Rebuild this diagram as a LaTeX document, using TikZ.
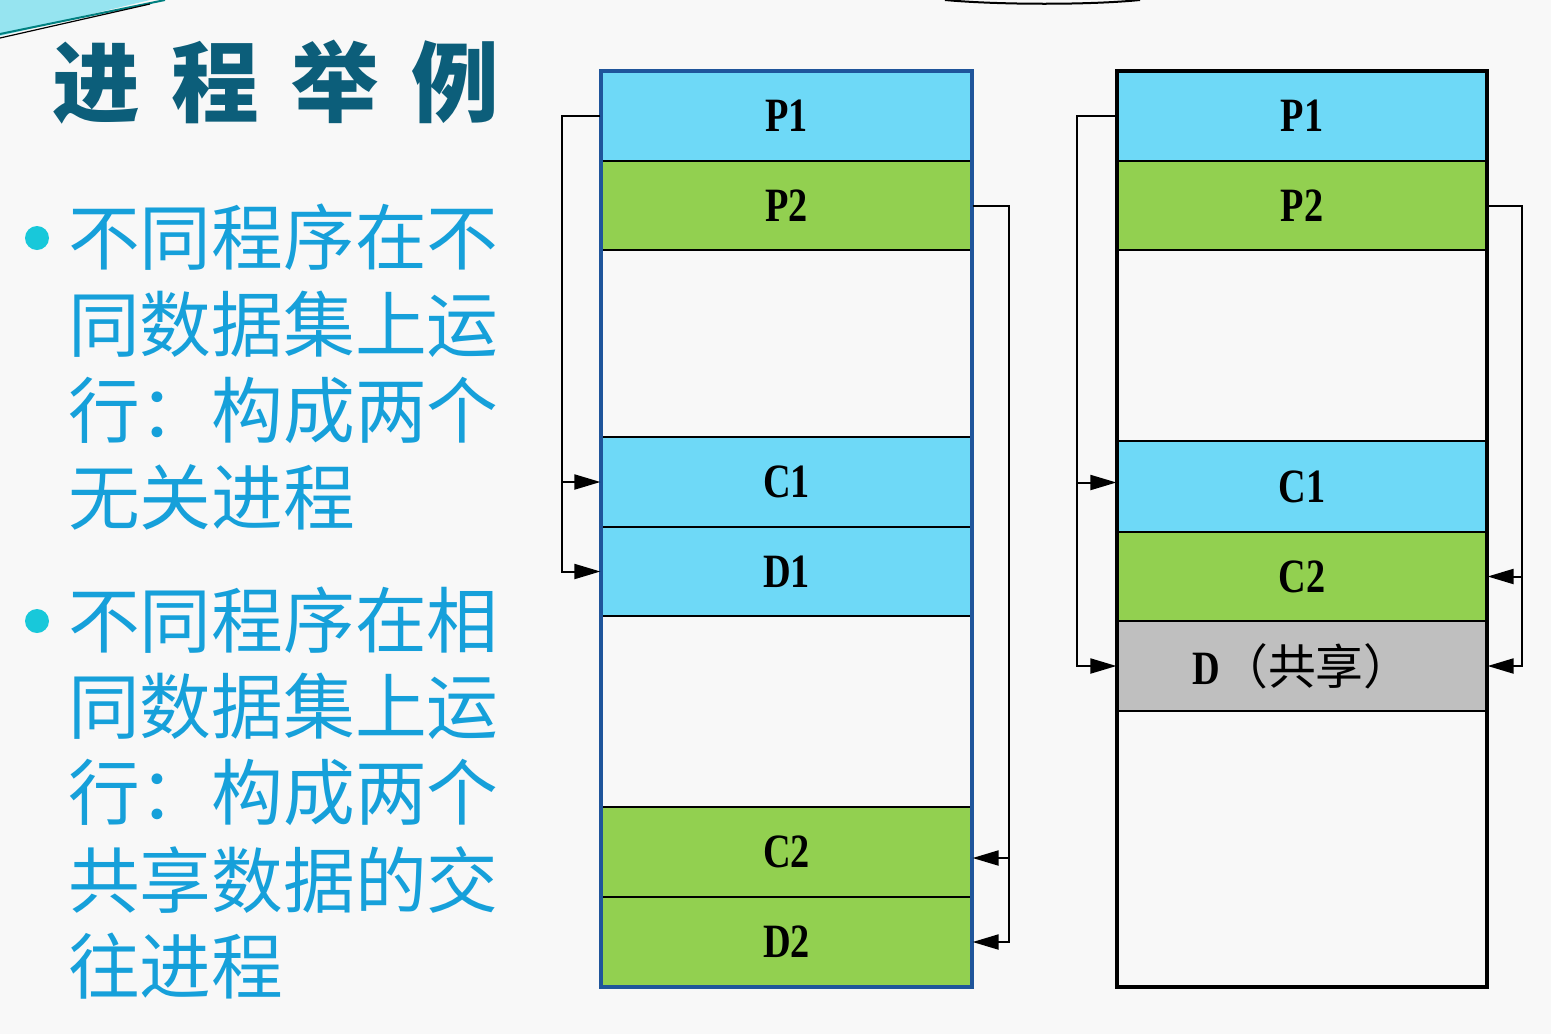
\documentclass[tikz,border=0pt]{standalone}
\usepackage{fontspec}
\usetikzlibrary{arrows.meta,calc}
\newfontfamily\cjk{Noto Sans CJK SC}
\newfontfamily\labf{Liberation Serif}[FakeStretch=0.8]
\definecolor{bg}{RGB}{248,248,248}
\definecolor{cyanrow}{RGB}{110,217,247}
\definecolor{greenrow}{RGB}{146,208,80}
\definecolor{greyrow}{RGB}{191,191,191}
\definecolor{boxblue}{RGB}{31,85,155}
\definecolor{titleblue}{RGB}{12,94,122}
\definecolor{bodyblue}{RGB}{22,160,218}
\definecolor{bulletc}{RGB}{24,200,218}
\definecolor{swoosh}{RGB}{150,228,240}
\begin{document}
\begin{tikzpicture}[x=1bp,y=-1bp,
  row/.style={draw=black,line width=1.2bp,minimum height=90bp,inner sep=0pt,
    font=\labf\bfseries\fontsize{48}{48}\selectfont},
  lrow/.style={row,minimum width=371bp},
  rrow/.style={row,minimum width=370bp},
  conn/.style={draw=black,line width=2bp},
  arr/.style={conn,-{Triangle[length=26bp,width=15bp]}},
  body/.style={anchor=west,inner sep=0pt,text=bodyblue,font=\cjk\fontsize{72}{72}\selectfont},
  bullet/.style={circle,fill=bulletc,minimum size=24bp,inner sep=0pt}]
\useasboundingbox (0,0) rectangle (1551,1034);
\fill[bg] (0,0) rectangle (1551,1034);
% decorations
\fill[swoosh] (0,0) -- (150,0) -- (0,36) -- cycle;
\draw[teal,line width=2bp] (0,34) -- (165,0);
\draw[black,line width=1.2bp] (0,38) -- (150,4);
\draw[black,line width=2bp] (945,0) .. controls (1000,5) and (1090,5) .. (1140,0);
% title
\node[anchor=west,inner sep=0pt,text=titleblue,font=\cjk\bfseries\fontsize{88}{88}\selectfont] (title) at (52,82)
  {进\hspace{32bp}程\hspace{32bp}举\hspace{32bp}例};
% bullets and text
\node[bullet] (b1) at (37,238) {};
\node[body] (t1) at (68,237) {不同程序在不};
\node[body] (t2) at (68,324) {同数据集上运};
\node[body] (t3) at (68,410) {行：构成两个};
\node[body] (t4) at (68,497) {无关进程};
\node[bullet] (b2) at (37,621) {};
\node[body] (t5) at (68,620) {不同程序在相};
\node[body] (t6) at (68,706) {同数据集上运};
\node[body] (t7) at (68,792) {行：构成两个};
\node[body] (t8) at (68,880) {共享数据的交};
\node[body] (t9) at (68,966) {往进程};
% left box
\node[lrow,fill=cyanrow] (lp1) at (786.5,116) {P1};
\node[lrow,fill=greenrow,minimum height=89bp] (lp2) at (786.5,205.5) {P2};
\node[lrow,fill=cyanrow] (lc1) at (786.5,482) {C1};
\node[lrow,fill=cyanrow,minimum height=89bp] (ld1) at (786.5,571.5) {D1};
\node[lrow,fill=greenrow] (lc2) at (786.5,852) {C2};
\node[lrow,fill=greenrow] (ld2) at (786.5,942) {D2};
\node[draw=boxblue,line width=4bp,minimum width=371bp,minimum height=916bp,inner sep=0pt] (lbox) at (786.5,529) {};
% right box
\node[rrow,fill=cyanrow] (rp1) at (1302,116) {P1};
\node[rrow,fill=greenrow,minimum height=89bp] (rp2) at (1302,205.5) {P2};
\node[rrow,fill=cyanrow,minimum height=91bp] (rc1) at (1302,486.5) {C1};
\node[rrow,fill=greenrow,minimum height=89bp] (rc2) at (1302,576.5) {C2};
\node[rrow,fill=greyrow] (rd) at (1302,666) {D{\cjk\mdseries\fontsize{48}{48}\selectfont （共享）}};
\node[draw=black,line width=4bp,minimum width=370bp,minimum height=916bp,inner sep=0pt] (rbox) at (1302,529) {};
% connectors
\coordinate (lb) at (562,0);
\coordinate (lr) at (1009,0);
\coordinate (rl) at (1077,0);
\coordinate (rr) at (1522,0);
\draw[arr] (lp1.west) -- (lp1.west -| lb) |- (ld1.west);
\draw[arr] (lc1.west -| lb) -- (lc1.west);
\draw[arr] (lp2.east) -- (lp2.east -| lr) |- (ld2.east);
\draw[arr] ($(lc2.east -| lr)+(0,6)$) -- ($(lc2.east)+(0,6)$);
\draw[arr] (rp1.west) -- (rp1.west -| rl) |- (rd.west);
\draw[arr] ($(rc1.west -| rl)+(0,-4)$) -- ($(rc1.west)+(0,-4)$);
\draw[arr] (rp2.east) -- (rp2.east -| rr) |- (rd.east);
\draw[arr] (rc2.east -| rr) -- (rc2.east);
\end{tikzpicture}
\end{document}
